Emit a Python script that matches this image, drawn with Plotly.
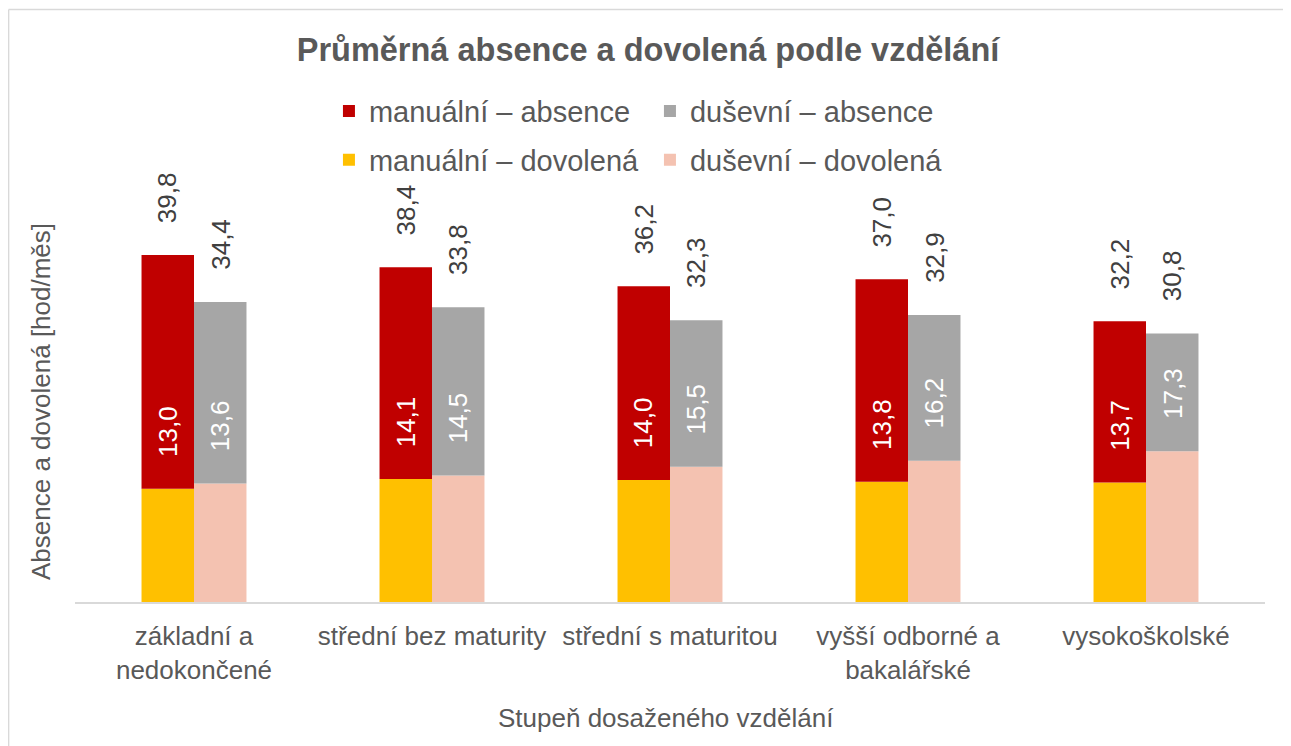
import plotly.graph_objects as go

# ---- data ----
categories = ["základní a<br>nedokončené", "střední bez maturity", "střední s maturitou",
              "vyšší odborné a<br>bakalářské", "vysokoškolské"]
manual_total = [39.8, 38.4, 36.2, 37.0, 32.2]      # manuální – absence (total top of bar)
mental_total = [34.4, 33.8, 32.3, 32.9, 30.8]      # duševní – absence (total top of bar)
manual_leave = [13.0, 14.1, 14.0, 13.8, 13.7]      # manuální – dovolená
mental_leave = [13.6, 14.5, 15.5, 16.2, 17.3]      # duševní – dovolená

series_names = ["manuální – absence", "duševní – absence", "manuální – dovolená", "duševní – dovolená"]
colors = ["#C00000", "#A6A6A6", "#FFC000", "#F4C2B1"]

FONT = "Liberation Sans, Arial, sans-serif"
TXT = "#595959"
BARGAP = 0.559

def fmt(v):
    return f"{v:.1f}".replace(".", ",")

manual_abs = [t - l for t, l in zip(manual_total, manual_leave)]
mental_abs = [t - l for t, l in zip(mental_total, mental_leave)]

fig = go.Figure()
fig.add_bar(x=categories, y=manual_leave, name=series_names[2], offsetgroup="m",
            marker=dict(color=colors[2], line_width=0), legend="legend2")
fig.add_bar(x=categories, y=mental_leave, name=series_names[3], offsetgroup="d",
            marker=dict(color=colors[3], line_width=0), legend="legend2")
fig.add_bar(x=categories, y=manual_abs, base=manual_leave, name=series_names[0], offsetgroup="m",
            marker=dict(color=colors[0], line_width=0), legend="legend")
fig.add_bar(x=categories, y=mental_abs, base=mental_leave, name=series_names[1], offsetgroup="d",
            marker=dict(color=colors[1], line_width=0), legend="legend")

off = (1 - BARGAP) / 4
annotations = []
for i in range(len(categories)):
    for dx, tot, lv in ((-off, manual_total[i], manual_leave[i]), (off, mental_total[i], mental_leave[i])):
        annotations.append(dict(x=i + dx, y=tot, xref="x", yref="y", text=fmt(tot), showarrow=False,
                                textangle=-90, yanchor="bottom", yshift=30,
                                font=dict(family=FONT, size=26, color="#404040")))
        annotations.append(dict(x=i + dx, y=lv, xref="x", yref="y", text=fmt(lv), showarrow=False,
                                textangle=-90, yanchor="bottom", yshift=30,
                                font=dict(family=FONT, size=26, color="#FFFFFF")))

# page is rendered with an 8px body margin, so the figure is shifted by 8px
annotations.append(dict(x=-0.0286, y=0.461, xref="paper", yref="paper", text="Absence a dovolená [hod/měs]",
                        showarrow=False, textangle=-90, xanchor="center", yanchor="middle",
                        font=dict(family=FONT, size=26, color=TXT)))
annotations.append(dict(x=0.4965, y=-0.266, xref="paper", yref="paper", text="Stupeň dosaženého vzdělání",
                        showarrow=False, xanchor="center", yanchor="middle",
                        font=dict(family=FONT, size=26, color=TXT)))

legend_common = dict(orientation="h", xanchor="left", yanchor="middle", entrywidth=276,
                     font=dict(family=FONT, size=29, color=TXT), bgcolor="rgba(0,0,0,0)",
                     traceorder="normal")

W, H = 1283, 738
fig.update_layout(
    width=W, height=H, autosize=False,
    margin=dict(l=67, r=26, t=158, b=144),
    paper_bgcolor="white", plot_bgcolor="white",
    barmode="group", bargap=BARGAP, bargroupgap=0,
    title=dict(text="<b>Průměrná absence a dovolená podle vzdělání</b>", x=(648 - 8) / W, xref="container",
               y=1 - 42 / H, yref="container", xanchor="center", yanchor="middle",
               font=dict(family=FONT, size=32.5, color=TXT)),
    xaxis=dict(type="category", range=[-0.5, 4.5], showline=True, linecolor="#D9D9D9", linewidth=2,
               ticks="", ticklabelstandoff=10, showgrid=False,
               tickfont=dict(family=FONT, size=26, color=TXT)),
    yaxis=dict(range=[0, 50], showticklabels=False, showgrid=False, zeroline=False, ticks="",
               showline=False),
    legend=dict(x=0.2134, y=1.126, **legend_common),
    legend2=dict(x=0.2134, y=1.0138, **legend_common),
    annotations=annotations,
    shapes=[
        dict(type="line", xref="paper", yref="paper", x0=-0.0558, x1=-0.0558, y0=1.359, y1=-0.4,
             line=dict(color="#D9D9D9", width=1.5)),
        dict(type="line", xref="paper", yref="paper", x0=-0.0558, x1=1.1, y0=1.359, y1=1.359,
             line=dict(color="#D9D9D9", width=1.5)),
    ],
    hovermode=False,
    showlegend=True,
)

fig.write_html("out.html")
